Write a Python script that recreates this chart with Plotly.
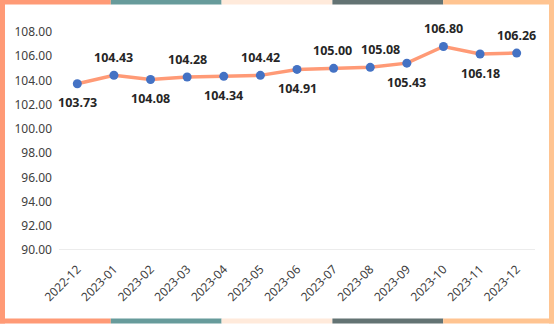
import plotly.graph_objects as go

categories = ["2022-12", "2023-01", "2023-02", "2023-03", "2023-04", "2023-05", "2023-06",
              "2023-07", "2023-08", "2023-09", "2023-10", "2023-11", "2023-12"]
values = [103.73, 104.43, 104.08, 104.28, 104.34, 104.42, 104.91, 105.00, 105.08, 105.43, 106.80, 106.18, 106.26]
label_pos = ["below", "above", "below", "above", "below", "above", "below", "above", "above", "below", "above", "below", "above"]
label_dx = [0, 0, 0, 0, 0, 0, 0, -1, 10, 0, 0, 0, 0]
y_ticks = [90, 92, 94, 96, 98, 100, 102, 104, 106, 108]
frame_colors = ["#FF9A76", "#679B9B", "#FFEADB", "#637373", "#FFC491"]

W, H = 554, 332
ML, MR, MT, MB = 59, 19, 32, 82
FONT = "Noto Sans, Liberation Sans, Arial"

fig = go.Figure()
fig.add_trace(go.Scatter(
    x=categories, y=values, mode="lines+markers",
    line=dict(color="#FF9A76", width=3.5),
    marker=dict(color="#4472C4", size=9),
    hoverinfo="x+y",
))

for c, v, p, dx in zip(categories, values, label_pos, label_dx):
    fig.add_annotation(x=c, y=v, text=f"<b>{v:.2f}</b>", showarrow=False,
                       yshift=18 if p == "above" else -19, xshift=dx,
                       font=dict(family=FONT, size=12.5, color="#262626"))

pw, ph = W - ML - MR, H - MT - MB

def px_x(x):
    return (x - ML) / pw

def px_y(y):
    return 1 - (y - MT) / ph

shapes = []
seg = W / 5
for i, col in enumerate(frame_colors):
    shapes.append(dict(type="rect", xref="paper", yref="paper",
                       x0=px_x(i * seg), x1=px_x((i + 1) * seg), y0=px_y(0), y1=px_y(4.5),
                       fillcolor=col, line=dict(width=0), layer="below"))
    shapes.append(dict(type="rect", xref="paper", yref="paper",
                       x0=px_x(i * seg), x1=px_x((i + 1) * seg), y0=px_y(318.5), y1=px_y(323.5),
                       fillcolor=col, line=dict(width=0), layer="below"))
shapes.append(dict(type="rect", xref="paper", yref="paper",
                   x0=px_x(0), x1=px_x(5), y0=px_y(0), y1=px_y(323.5),
                   fillcolor=frame_colors[0], line=dict(width=0), layer="below"))
shapes.append(dict(type="rect", xref="paper", yref="paper",
                   x0=px_x(549), x1=px_x(554), y0=px_y(0), y1=px_y(323.5),
                   fillcolor=frame_colors[-1], line=dict(width=0), layer="below"))

fig.update_layout(
    width=W, height=H,
    margin=dict(l=ML, r=MR, t=MT, b=MB),
    paper_bgcolor="white", plot_bgcolor="white",
    showlegend=False,
    shapes=shapes,
    font=dict(family=FONT, size=12, color="#404040"),
    xaxis=dict(type="category", tickangle=-45, showgrid=False, showline=False,
               ticks="", range=[-0.5, len(categories) - 0.5], ticklabelstandoff=9,
               tickfont=dict(family=FONT, size=12, color="#404040")),
    yaxis=dict(range=[90, 108], tickvals=y_ticks, ticktext=[f"{t:.2f}" for t in y_ticks],
               showgrid=False, zeroline=False, showline=False, ticks="", ticklabelstandoff=6,
               tickfont=dict(family=FONT, size=12, color="#404040")),
)
fig.add_shape(type="line", xref="paper", yref="y", x0=0, x1=1, y0=90, y1=90,
              line=dict(color="#D9D9D9", width=1))

fig.write_html("out.html")
